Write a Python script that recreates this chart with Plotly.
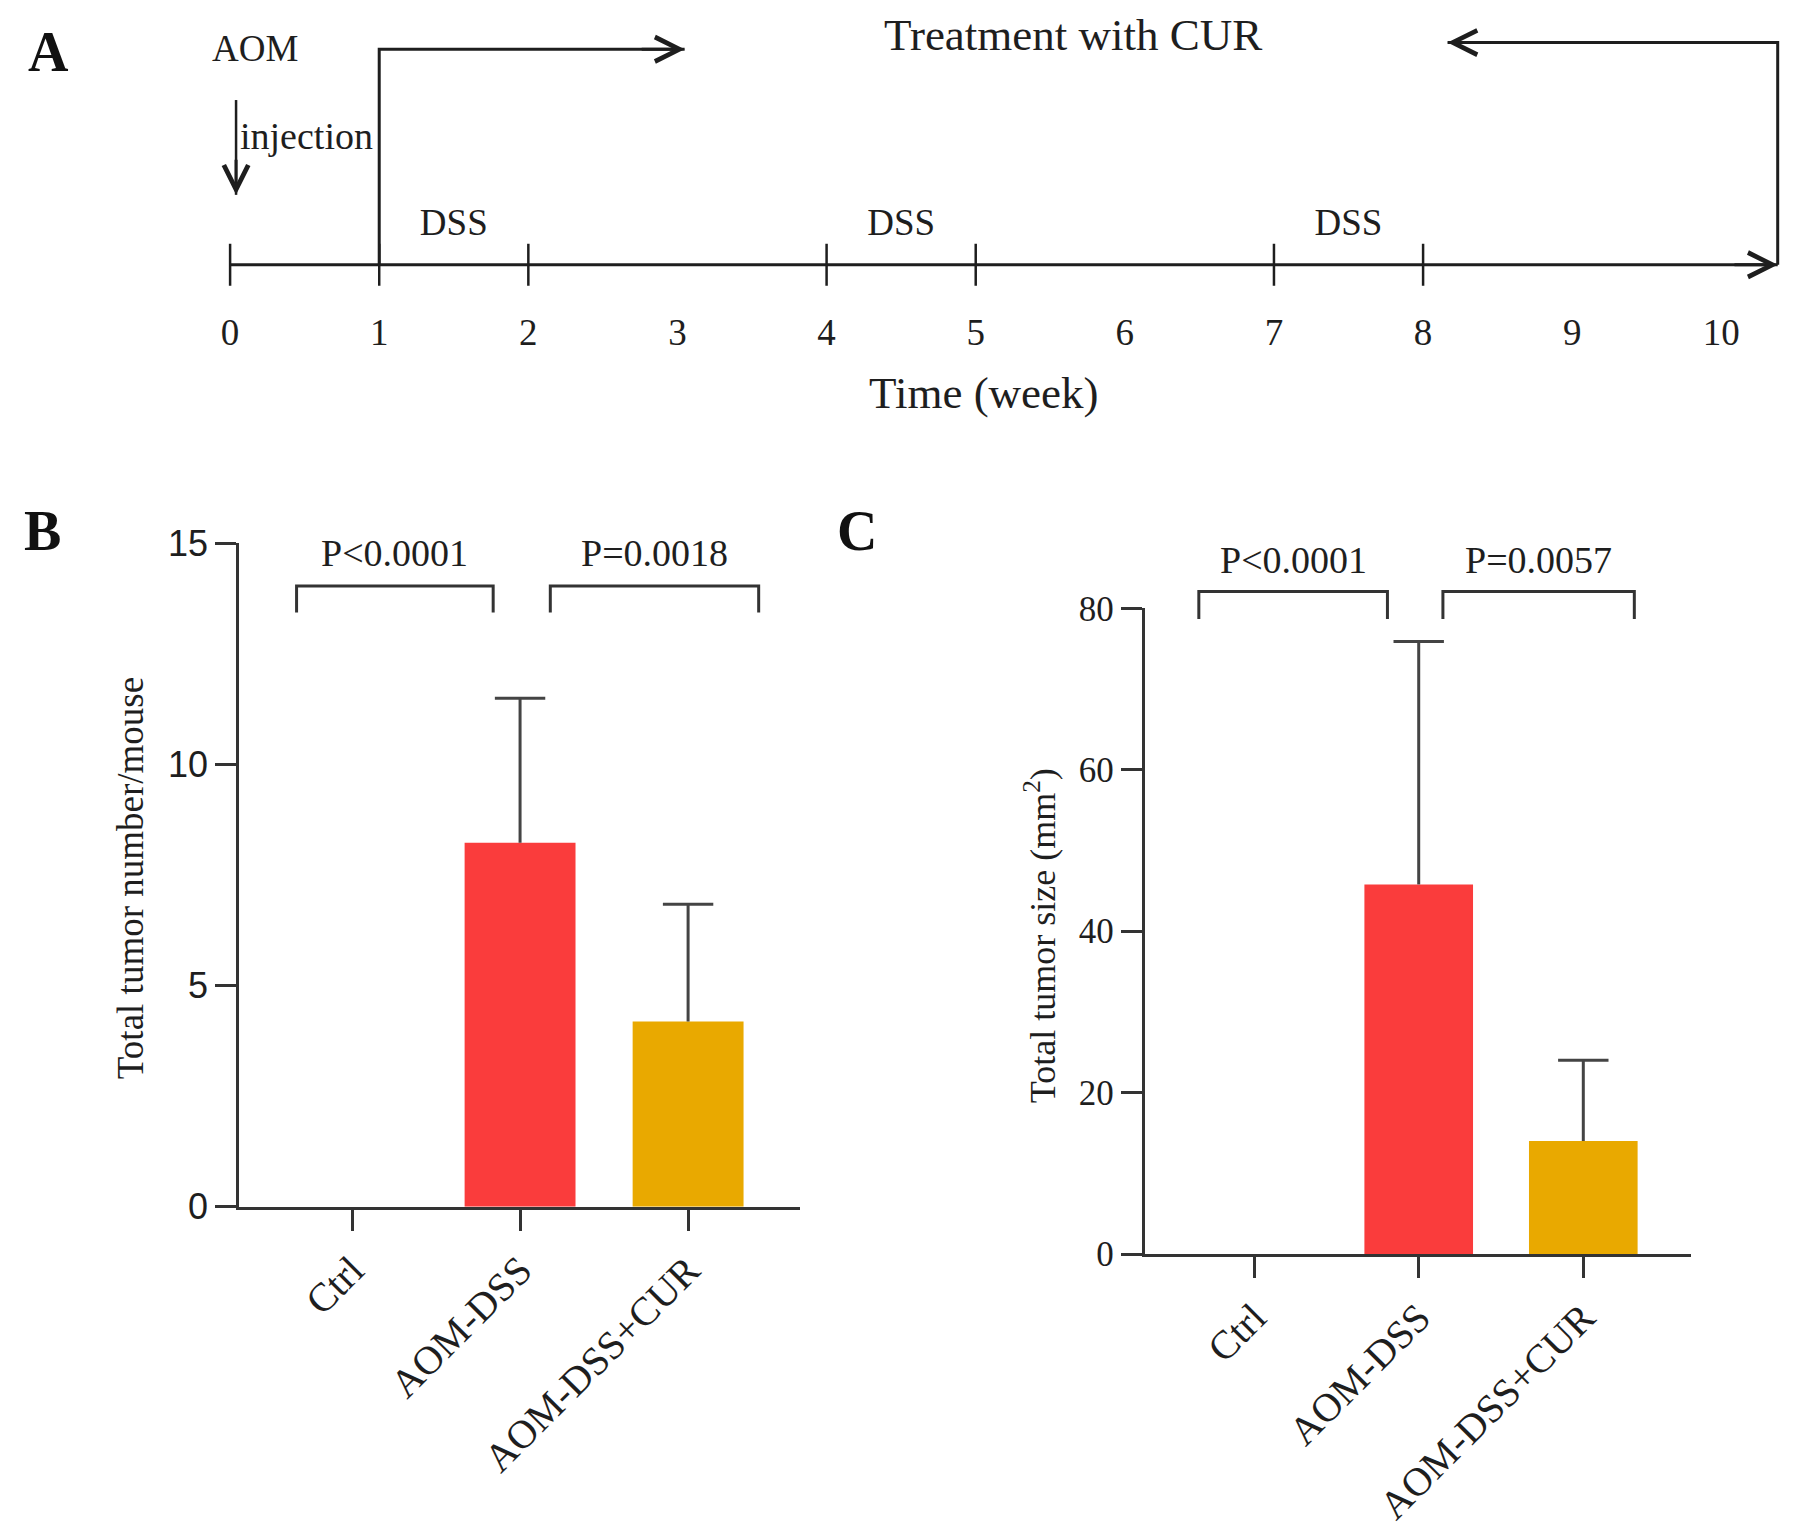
import plotly.graph_objects as go

# panel A: study timeline, in weeks
weeks = list(range(11))
week_marks = [0, 1, 2, 4, 5, 7, 8]
dss_start = [1, 4, 7]
dss_end = [2, 5, 8]
aom_week = 0
cur_start = 1

# panels B and C
groups = ["Ctrl", "AOM-DSS", "AOM-DSS+CUR"]
tumor_number = [0, 8.23, 4.19]
tumor_number_sd = [0, 3.27, 2.65]
tumor_size = [0, 45.8, 14.0]
tumor_size_sd = [0, 30.1, 10.0]
p_number = ["P&lt;0.0001", "P=0.0018"]
p_size = ["P&lt;0.0001", "P=0.0057"]

SERIF = "Liberation Serif, Times New Roman, serif"
SANS = "Liberation Sans, Arial, sans-serif"
INK = "#1e1e1e"
AX = "#333333"
bar_colors = ["#ffffff", "#fa3c3c", "#e9a900"]
xpos = list(range(len(groups)))

fig = go.Figure()


def err_traces(means, sds, xa, ya):
    xs, ys, cx, cy = [], [], [], []
    for x, m, s in zip(xpos, means, sds):
        if s <= 0:
            continue
        xs += [x, x, None]
        ys += [m, m + s, None]
        cx.append(x)
        cy.append(m + s)
    fig.add_trace(go.Scatter(x=xs, y=ys, mode="lines", line=dict(color="#444", width=3),
                             xaxis=xa, yaxis=ya, hoverinfo="skip"))
    fig.add_trace(go.Scatter(x=cx, y=cy, mode="markers", cliponaxis=False,
                             marker=dict(symbol="line-ew", size=36, line=dict(color="#444", width=3)),
                             xaxis=xa, yaxis=ya, hoverinfo="skip"))


def bracket(x0, x1, ylo, yhi, xa, ya):
    fig.add_trace(go.Scatter(x=[x0, x0, x1, x1], y=[ylo, yhi, yhi, ylo], mode="lines",
                             line=dict(color=AX, width=3), xaxis=xa, yaxis=ya, hoverinfo="skip"))


# B: tumour number
fig.add_trace(go.Bar(x=xpos, y=tumor_number, width=0.66, marker_color=bar_colors,
                     marker_line_width=0, xaxis="x", yaxis="y"))
err_traces(tumor_number, tumor_number_sd, "x", "y")

# C: tumour size
fig.add_trace(go.Bar(x=xpos, y=tumor_size, width=0.66, marker_color=bar_colors,
                     marker_line_width=0, xaxis="x2", yaxis="y2"))
err_traces(tumor_size, tumor_size_sd, "x2", "y2")

annotations = []

# significance brackets
b_spans = [(-0.33, 0.84), (1.18, 2.42)]
for (x0, x1), p in zip(b_spans, p_number):
    bracket(x0, x1, 13.44, 14.04, "x", "y")
    annotations.append(dict(x=(x0 + x1) / 2, y=14.79, xref="x", yref="y", text=p, showarrow=False,
                            font=dict(family=SERIF, size=38, color=INK)))
c_dom = [0.1565, 0.5978]
c_top = 80 * (0.66 - c_dom[0]) / (c_dom[1] - c_dom[0])
c_spans = [(-0.336, 0.81), (1.147, 2.31)]
for (x0, x1), p in zip(c_spans, p_size):
    bracket(x0, x1, 78.7, 82.1, "x2", "y4")
    annotations.append(dict(x=(x0 + x1) / 2, y=86.0, xref="x2", yref="y4", text=p, showarrow=False,
                            font=dict(family=SERIF, size=38, color=INK)))

# A: timeline
TL = 0.8327
TOP_L = 0.9800
TOP_R = 0.9846
END = 10.378
fig.add_trace(go.Scatter(x=[0, END], y=[TL, TL], mode="lines", line=dict(color=INK, width=3),
                         xaxis="x3", yaxis="y3", hoverinfo="skip"))
fig.add_trace(go.Scatter(x=week_marks, y=[TL] * len(week_marks), mode="markers",
                         marker=dict(symbol="line-ns", size=30, line=dict(color=INK, width=2.5)),
                         xaxis="x3", yaxis="y3", hoverinfo="skip"))
fig.add_trace(go.Scatter(x=[cur_start, cur_start, 3.048, None, END, END, 8.164],
                         y=[TL, TOP_L, TOP_L, None, TL, TOP_R, TOP_R], mode="lines",
                         line=dict(color=INK, width=3), xaxis="x3", yaxis="y3", hoverinfo="skip"))
fig.add_trace(go.Scatter(x=[aom_week + 0.04, aom_week + 0.04], y=[0.9453, 0.8805], mode="lines",
                         line=dict(color=INK, width=2.5), xaxis="x3", yaxis="y3", hoverinfo="skip"))
fig.add_trace(go.Scatter(x=weeks, y=[0.7845] * len(weeks), mode="text", text=[str(w) for w in weeks],
                         textfont=dict(family=SERIF, size=37, color=INK), xaxis="x3", yaxis="y3",
                         hoverinfo="skip"))
fig.add_trace(go.Scatter(x=[(a + b) / 2 for a, b in zip(dss_start, dss_end)], y=[0.8595] * len(dss_start),
                         mode="text", text=["DSS"] * len(dss_start),
                         textfont=dict(family=SERIF, size=37, color=INK), xaxis="x3", yaxis="y3",
                         hoverinfo="skip"))

# arrow heads
for tip, tail in [((END, TL), (END - 0.3, TL)),
                  ((3.048, TOP_L), (2.75, TOP_L)),
                  ((8.164, TOP_R), (8.46, TOP_R)),
                  ((aom_week + 0.04, 0.8805), (aom_week + 0.04, 0.9055))]:
    annotations.append(dict(x=tip[0], y=tip[1], ax=tail[0], ay=tail[1], xref="x3", yref="y3",
                            axref="x3", ayref="y3", text="", showarrow=True, arrowhead=5,
                            arrowsize=1.6, arrowwidth=3, arrowcolor=INK, standoff=0, startstandoff=0))

texts = [
    ("AOM", 0.1423, 0.9807, 37, False),
    ("injection", 0.1705, 0.9206, 38, False),
    ("Treatment with CUR", 0.598, 0.9900, 45, False),
    ("Time (week)", 0.548, 0.7448, 45, False),
    ("A", 0.0269, 0.9784, 56, True),
    ("B", 0.0237, 0.6507, 56, True),
    ("C", 0.4776, 0.6507, 56, True),
]
for t, x, y, s, bold in texts:
    annotations.append(dict(x=x, y=y, xref="paper", yref="paper", text=f"<b>{t}</b>" if bold else t,
                            showarrow=False, xanchor="center", yanchor="middle",
                            font=dict(family=SERIF, size=s, color="#111" if bold else INK)))

annotations.append(dict(x=0.0724, y=0.4134, xref="paper", yref="paper", text="Total tumor number/mouse",
                        textangle=-90, showarrow=False, xanchor="center", yanchor="middle",
                        font=dict(family=SERIF, size=37, color=INK)))
annotations.append(dict(x=0.5801, y=0.3739, xref="paper", yref="paper", text="Total tumor size (mm<sup>2</sup>)",
                        textangle=-90, showarrow=False, xanchor="center", yanchor="middle",
                        font=dict(family=SERIF, size=36, color=INK)))

xcommon = dict(tickvals=xpos, ticktext=groups, tickangle=-45, ticks="outside", ticklen=21, tickwidth=3,
               tickcolor=AX, showline=True, linecolor=AX, linewidth=3, showgrid=False, zeroline=False,
               tickfont=dict(family=SERIF, size=40, color=INK))
ycommon = dict(ticks="outside", ticklen=21, tickwidth=3, tickcolor=AX, showline=True, linecolor=AX,
               linewidth=3, showgrid=False, zeroline=False)

fig.update_layout(
    width=1795, height=1528, margin=dict(l=0, r=0, t=0, b=0),
    paper_bgcolor="white", plot_bgcolor="rgba(0,0,0,0)", showlegend=False,
    xaxis=dict(domain=[0.1333, 0.4455], range=[-0.671, 2.664], anchor="y", **xcommon),
    yaxis=dict(domain=[0.1889, 0.6422], range=[0, 15], tickvals=[0, 5, 10, 15], anchor="x",
               tickfont=dict(family=SANS, size=36, color=INK), **ycommon),
    xaxis2=dict(domain=[0.6378, 0.9423], range=[-0.664, 2.657], anchor="y2", **xcommon),
    yaxis2=dict(domain=c_dom, range=[0, 80], tickvals=[0, 20, 40, 60, 80], anchor="x2",
                tickfont=dict(family=SERIF, size=35, color=INK), **ycommon),
    yaxis4=dict(domain=[c_dom[0], 0.66], range=[0, c_top], anchor="x2", visible=False),
    xaxis3=dict(domain=[0, 1], range=[-1.543, 10.494], anchor="y3", visible=False),
    yaxis3=dict(domain=[0.70, 1], range=[0.70, 1], anchor="x3", visible=False),
    annotations=annotations,
)

fig.write_html("out.html", config={"displayModeBar": False},
               post_script="document.body.style.margin='0';")
